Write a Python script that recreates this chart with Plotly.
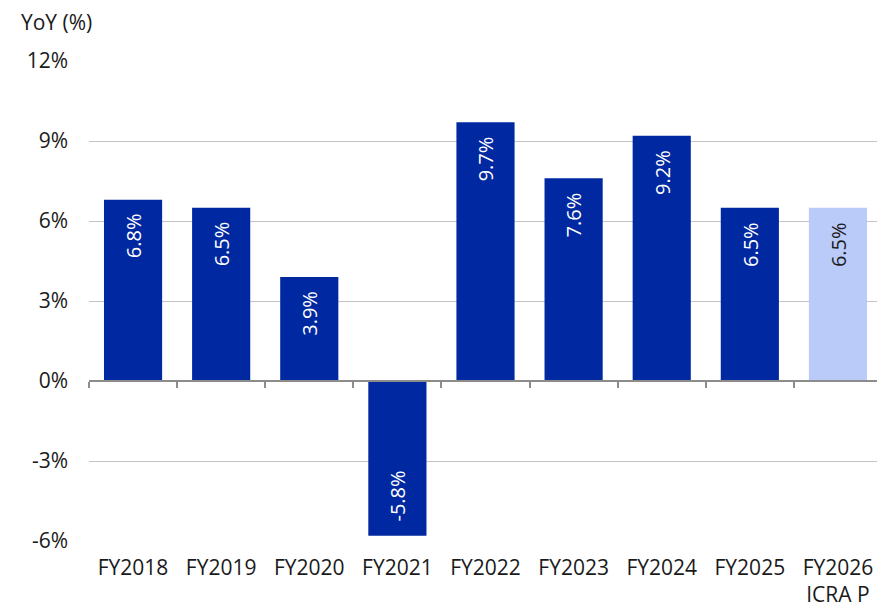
import plotly.graph_objects as go

categories = ["FY2018", "FY2019", "FY2020", "FY2021", "FY2022", "FY2023", "FY2024", "FY2025", "FY2026<br>ICRA P"]
yoy = [6.8, 6.5, 3.9, -5.8, 9.7, 7.6, 9.2, 6.5, 6.5]
labels = ["6.8%", "6.5%", "3.9%", "-5.8%", "9.7%", "7.6%", "9.2%", "6.5%", "6.5%"]
y_ticks = [-6, -3, 0, 3, 6, 9, 12]
y_ticklabels = ["-6%", "-3%", "0%", "3%", "6%", "9%", "12%"]

DARK = "#0028A0"
LIGHT = "#BACBFA"
colors = [DARK] * 8 + [LIGHT]
label_colors = ["white"] * 8 + ["#1a1a1a"]
FONT = "Open Sans"

fig = go.Figure()
fig.add_trace(go.Bar(
    x=categories, y=yoy, marker=dict(color=colors, line=dict(width=0)),
    hoverinfo="skip", showlegend=False,
))
# helper trace for the zero-line axis with boundary ticks
fig.add_trace(go.Scatter(
    x=categories, y=[0] * len(categories), xaxis="x2", mode="markers",
    marker=dict(opacity=0), hoverinfo="skip", showlegend=False,
))

for c, v, t, col in zip(categories, yoy, labels, label_colors):
    fig.add_annotation(
        x=c, y=v, text=t, showarrow=False, textangle=-90,
        yanchor="top" if v >= 0 else "bottom",
        yshift=-12 if v >= 0 else 12,
        font=dict(family=FONT, size=20, color=col),
    )

fig.add_annotation(
    x=0, xref="paper", xanchor="left", xshift=-70,
    y=1, yref="paper", yanchor="bottom", yshift=23,
    text="YoY (%)", showarrow=False,
    font=dict(family=FONT, size=21, color="#1a1a1a"),
)

fig.update_layout(
    width=877, height=601,
    margin=dict(l=81, r=3, t=53, b=68, autoexpand=False),
    paper_bgcolor="white", plot_bgcolor="white",
    bargap=0.34,
    font=dict(family=FONT, size=21, color="#1a1a1a"),
    xaxis=dict(
        type="category", categoryorder="array", categoryarray=categories,
        range=[-0.5, 8.5], showgrid=False, showline=False, ticks="",
        tickfont=dict(size=21), zeroline=False, ticklabelstandoff=12,
        automargin=False,
    ),
    xaxis2=dict(
        type="category", categoryorder="array", categoryarray=categories,
        range=[-0.5, 8.5], overlaying="x", anchor="free", position=1 / 3,
        side="bottom", showline=True, linecolor="#8C8C8C", linewidth=1.5,
        ticks="outside", tickson="boundaries", ticklen=6, tickwidth=1.5,
        tickcolor="#8C8C8C", showticklabels=False, showgrid=False, zeroline=False,
        automargin=False,
    ),
    yaxis=dict(
        range=[-6, 12], tickvals=y_ticks, ticktext=y_ticklabels,
        showgrid=True, gridcolor="#C4C4C4", gridwidth=1,
        zeroline=False, showline=False, ticks="", ticklabelstandoff=20,
        tickfont=dict(size=21), automargin=False,
    ),
)

fig.write_html("out.html")
